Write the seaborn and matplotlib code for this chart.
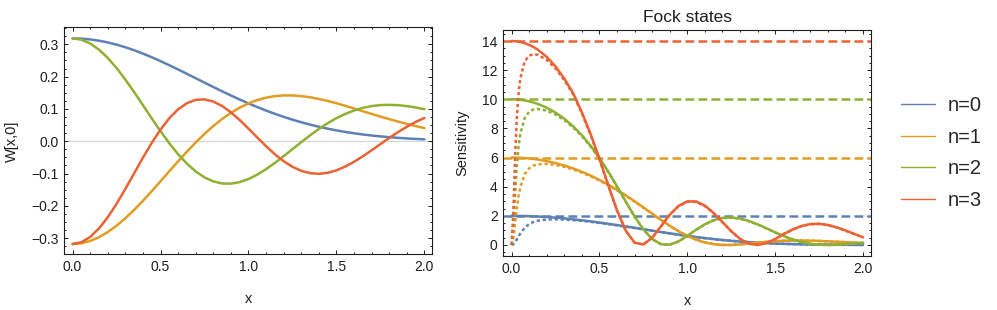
import numpy as np
import pandas as pd
import matplotlib
matplotlib.use("Agg")
import matplotlib.pyplot as plt
import seaborn as sns
from matplotlib.lines import Line2D
from matplotlib.ticker import MultipleLocator

labels = ["n=0", "n=1", "n=2", "n=3"]
colors = ["#5E81B5", "#E19C24", "#8FB032", "#EB6235"]

# ---- left panel: W[x,0], sampled every 0.05 in x
x_w = np.round(np.arange(0, 2.0001, 0.05), 2)
w_n0 = [0.3183, 0.3175, 0.3151, 0.3112, 0.3058, 0.2990, 0.2909, 0.2816, 0.2712, 0.2600,
        0.2479, 0.2352, 0.2221, 0.2086, 0.1950, 0.1814, 0.1678, 0.1546, 0.1416, 0.1291,
        0.1171, 0.1057, 0.0949, 0.0848, 0.0754, 0.0667, 0.0587, 0.0514, 0.0448, 0.0389,
        0.0336, 0.0288, 0.0246, 0.0209, 0.0177, 0.0149, 0.0125, 0.0104, 0.0086, 0.0071, 0.0058]
w_n1 = [-0.3183, -0.3159, -0.3088, -0.2972, -0.2813, -0.2616, -0.2385, -0.2126, -0.1844, -0.1547,
        -0.1240, -0.0929, -0.0622, -0.0323, -0.0039, 0.0227, 0.0470, 0.0688, 0.0878, 0.1039,
        0.1171, 0.1274, 0.1348, 0.1395, 0.1418, 0.1417, 0.1397, 0.1360, 0.1308, 0.1247,
        0.1176, 0.1096, 0.1014, 0.0929, 0.0846, 0.0763, 0.0685, 0.0608, 0.0535, 0.0469, 0.0406]
w_n2 = [0.3183, 0.3143, 0.3026, 0.2835, 0.2578, 0.2266, 0.1909, 0.1521, 0.1115, 0.0707,
        0.0310, -0.0064, -0.0402, -0.0695, -0.0936, -0.1120, -0.1243, -0.1308, -0.1314, -0.1266,
        -0.1171, -0.1035, -0.0865, -0.0672, -0.0462, -0.0245, -0.0028, 0.0181, 0.0378, 0.0557,
        0.0714, 0.0845, 0.0951, 0.1031, 0.1088, 0.1118, 0.1126, 0.1115, 0.1087, 0.1045, 0.0991]
w_n3 = [-0.3183, -0.3128, -0.2964, -0.2701, -0.2353, -0.1938, -0.1477, -0.0993, -0.0510, -0.0052,
        0.0361, 0.0712, 0.0987, 0.1178, 0.1280, 0.1295, 0.1228, 0.1091, 0.0895, 0.0656,
        0.0390, 0.0115, -0.0154, -0.0403, -0.0619, -0.0792, -0.0917, -0.0989, -0.1009, -0.0978,
        -0.0902, -0.0786, -0.0638, -0.0467, -0.0281, -0.0090, 0.0100, 0.0281, 0.0447, 0.0595, 0.0719]

# ---- right panel: sensitivity (solid = ideal, dotted = with loss, dashed = bound)
x_s = [0, 0.01, 0.02, 0.03, 0.04, 0.05, 0.075, 0.1, 0.125, 0.15,
       0.2, 0.25, 0.3, 0.35, 0.4, 0.45, 0.5, 0.55, 0.6, 0.65, 0.7, 0.75, 0.8, 0.85, 0.9, 0.95, 1.0,
       1.05, 1.1, 1.15, 1.2, 1.25, 1.3, 1.35, 1.4, 1.45, 1.5, 1.55, 1.6, 1.65, 1.7, 1.75, 1.8,
       1.85, 1.9, 1.95, 2.0]
sens_n0 = [2.0, 2.0, 1.999, 1.998, 1.997, 1.995, 1.989, 1.980, 1.969, 1.955,
           1.921, 1.878, 1.825, 1.765, 1.697, 1.622, 1.542, 1.456, 1.366, 1.273, 1.178, 1.082, 0.986,
           0.892, 0.799, 0.711, 0.626,
           0.547, 0.472, 0.404, 0.343, 0.287, 0.238, 0.196, 0.159, 0.127, 0.101, 0.079, 0.062,
           0.047, 0.036, 0.027, 0.020, 0.015, 0.011, 0.008, 0.005]
sens_n1 = [6.0, 5.999, 5.998, 5.995, 5.990, 5.985, 5.966, 5.940, 5.906, 5.865,
           5.759, 5.623, 5.455, 5.256, 5.025, 4.763, 4.468, 4.143, 3.788, 3.406, 3.002, 2.581, 2.153,
           1.728, 1.322, 0.949, 0.626,
           0.366, 0.176, 0.059, 0.006, 0.005, 0.041, 0.097, 0.159, 0.215, 0.260, 0.291, 0.306,
           0.307, 0.297, 0.278, 0.252, 0.224, 0.194, 0.164, 0.136]
sens_n2 = [10.0, 9.999, 9.994, 9.987, 9.978, 9.965, 9.921, 9.859, 9.779, 9.680,
           9.426, 9.090, 8.667, 8.151, 7.535, 6.811, 5.980, 5.046, 4.032, 2.979, 1.960, 1.070, 0.411,
           0.057, 0.022, 0.246, 0.626,
           1.049, 1.426, 1.704, 1.860, 1.892, 1.815, 1.648, 1.417, 1.149, 0.870, 0.606, 0.378,
           0.201, 0.081, 0.017, 0.000, 0.018, 0.057, 0.104, 0.149]
sens_n3 = [14.0, 13.997, 13.990, 13.977, 13.958, 13.935, 13.853, 13.737, 13.587, 13.400,
           12.913, 12.261, 11.423, 10.435, 9.111, 7.615, 5.921, 4.118, 2.385, 0.980, 0.158, 0.034,
           0.500, 1.280, 2.078, 2.683, 2.992,
           2.987, 2.699, 2.197, 1.576, 0.946, 0.421, 0.092, 0.002, 0.130, 0.408, 0.767, 1.065,
           1.304, 1.436, 1.455, 1.373, 1.211, 0.997, 0.760, 0.529]
lossy_n0 = [0, 0.052, 0.191, 0.384, 0.593, 0.793, 1.187, 1.433, 1.581, 1.669,
            1.749, 1.764, 1.745, 1.706, 1.652, 1.586, 1.513, 1.432, 1.346, 1.256, 1.164, 1.070, 0.976,
            0.883, 0.792, 0.704, 0.621,
            0.542, 0.469, 0.401, 0.340, 0.285, 0.236, 0.194, 0.158, 0.126, 0.100, 0.079, 0.061,
            0.047, 0.036, 0.027, 0.020, 0.015, 0.011, 0.008, 0.005]
lossy_n1 = [0, 0.441, 1.444, 2.495, 3.346, 3.972, 4.863, 5.262, 5.450, 5.538,
            5.567, 5.495, 5.363, 5.185, 4.969, 4.720, 4.428, 4.106, 3.754, 3.375, 2.975, 2.558, 2.134,
            1.712, 1.310, 0.941, 0.621,
            0.363, 0.175, 0.058, 0.006, 0.005, 0.041, 0.096, 0.158, 0.213, 0.258, 0.288, 0.303,
            0.304, 0.294, 0.275, 0.250, 0.222, 0.192, 0.163, 0.135]
lossy_n2 = [0, 1.168, 3.454, 5.420, 6.764, 7.635, 8.724, 9.142, 9.302, 9.339,
            9.223, 8.953, 8.566, 8.072, 7.470, 6.750, 5.926, 5.001, 3.996, 2.952, 1.942, 1.060, 0.407,
            0.056, 0.022, 0.244, 0.620,
            1.040, 1.413, 1.689, 1.843, 1.875, 1.798, 1.633, 1.404, 1.138, 0.862, 0.601, 0.375,
            0.199, 0.080, 0.017, 0.000, 0.018, 0.057, 0.103, 0.148]
lossy_n3 = [0, 2.187, 5.946, 8.721, 10.415, 11.434, 12.606, 12.998, 13.095, 13.048,
            12.702, 12.115, 11.314, 10.348, 9.041, 7.546, 5.868, 4.081, 2.364, 0.971, 0.157, 0.034,
            0.496, 1.268, 2.059, 2.659, 2.965,
            2.960, 2.675, 2.177, 1.562, 0.937, 0.417, 0.091, 0.002, 0.129, 0.404, 0.760, 1.055,
            1.292, 1.423, 1.442, 1.361, 1.200, 0.988, 0.753, 0.524]
bound_levels = [2, 6, 10, 14]

sns.set_style("ticks")
plt.rcParams["font.family"] = ["Liberation Sans", "DejaVu Sans"]
ink = "#1f1f1f"

df_w = pd.DataFrame({
    "x": np.tile(x_w, 4),
    "W": w_n0 + w_n1 + w_n2 + w_n3,
    "n": np.repeat(labels, len(x_w)),
})
df_s = pd.DataFrame({
    "x": x_s * 8,
    "val": sens_n0 + sens_n1 + sens_n2 + sens_n3 + lossy_n0 + lossy_n1 + lossy_n2 + lossy_n3,
    "n": list(np.repeat(labels, len(x_s))) * 2,
    "kind": ["ideal"] * (4 * len(x_s)) + ["lossy"] * (4 * len(x_s)),
})

fig = plt.figure(figsize=(9.97, 3.10), dpi=100)
ax1 = fig.add_axes([0.0645, 0.1797, 0.3691, 0.7316])
ax2 = fig.add_axes([0.5048, 0.1742, 0.3688, 0.7290])

ax1.axhline(0, color="#d6d6d6", lw=0.9, zorder=0)
sns.lineplot(data=df_w, x="x", y="W", hue="n", palette=colors, lw=1.8,
             estimator=None, legend=False, ax=ax1)

for lev, c in zip(bound_levels, colors):
    ax2.axhline(lev, color=c, lw=1.8, dashes=(3.5, 1.7), zorder=1.5)
sns.lineplot(data=df_s, x="x", y="val", hue="n", style="kind", palette=colors,
             dashes={"ideal": "", "lossy": (1.3, 1.1)}, lw=1.8,
             estimator=None, legend=False, ax=ax2)


def frame(ax, ymaj, ymin):
    ax.set_xlim(-0.047, 2.045)
    ax.xaxis.set_major_locator(MultipleLocator(0.5))
    ax.xaxis.set_minor_locator(MultipleLocator(0.1))
    ax.yaxis.set_major_locator(MultipleLocator(ymaj))
    ax.yaxis.set_minor_locator(MultipleLocator(ymin))
    ax.tick_params(which="both", direction="in", top=True, right=True,
                   color=ink, labelcolor=ink, labelsize=10, width=0.7)
    ax.tick_params(which="major", length=3.0, pad=4)
    ax.tick_params(which="minor", length=1.6)
    for sp in ax.spines.values():
        sp.set_color(ink)
        sp.set_linewidth(0.8)


frame(ax1, 0.1, 0.025)
ax1.set_ylim(-0.35, 0.352)
ax1.set_xlabel("x", fontsize=10.5, color=ink, labelpad=13)
ax1.set_ylabel("W[x,0]", fontsize=10.5, color=ink, labelpad=9)

frame(ax2, 2, 0.5)
ax2.set_ylim(-0.755, 14.755)
ax2.set_xlabel("x", fontsize=10.5, color=ink, labelpad=13)
ax2.set_ylabel("Sensitivity", fontsize=10.5, color=ink, labelpad=9)
ax2.set_title("Fock states", fontsize=12.5, color=ink, pad=6)

handles = [Line2D([], [], color=c, lw=1.0) for c in colors]
fig.legend(handles, labels, loc="center left", bbox_to_anchor=(0.9037, 0.507),
           frameon=False, fontsize=14.5, handlelength=1.7, handletextpad=0.6,
           labelspacing=0.62, borderaxespad=0, borderpad=0)

fig.savefig("out.png", dpi=100)
